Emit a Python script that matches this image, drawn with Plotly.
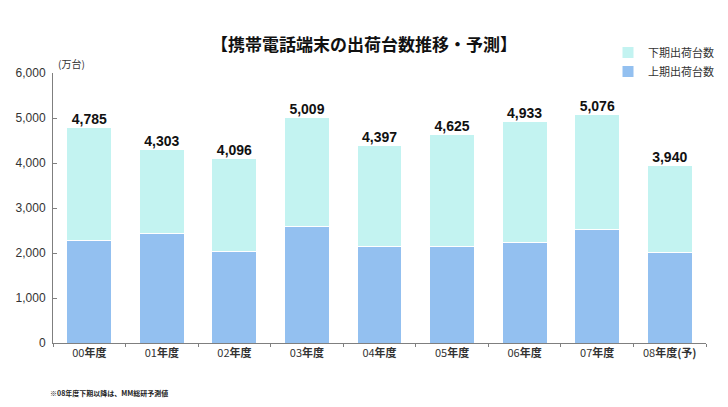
import plotly.graph_objects as go

categories = ["00年度", "01年度", "02年度", "03年度", "04年度", "05年度", "06年度", "07年度", "08年度(予)"]
tick_labels = ["00<b>年度</b>", "01<b>年度</b>", "02<b>年度</b>", "03<b>年度</b>", "04<b>年度</b>",
               "05<b>年度</b>", "06<b>年度</b>", "07<b>年度</b>", "08<b>年度(予)</b>"]
totals = [4785, 4303, 4096, 5009, 4397, 4625, 4933, 5076, 3940]
first_half = [2270, 2440, 2030, 2580, 2140, 2140, 2230, 2530, 2010]
second_half = [t - f for t, f in zip(totals, first_half)]

JP = "Noto Sans CJK JP, Liberation Sans, Arial, sans-serif"
W, H = 728, 407
L, R, T, B = 53, 22, 73, 64

fig = go.Figure()
fig.add_trace(go.Bar(x=categories, y=first_half, name="上期出荷台数",
                     marker=dict(color="#93C0F0", line=dict(color="white", width=1)),
                     hoverinfo="y"))
fig.add_trace(go.Bar(x=categories, y=second_half, name="下期出荷台数",
                     marker=dict(color="#C3F3F1", line=dict(color="white", width=1)),
                     hoverinfo="y"))
fig.add_trace(go.Scatter(x=categories, y=totals, mode="text",
                         text=[f"<b>{v:,}</b>" for v in totals], textposition="top center",
                         textfont=dict(family="Liberation Sans, Arial", size=14, color="#111111"),
                         showlegend=False, hoverinfo="skip", cliponaxis=False))

fig.update_layout(
    width=W, height=H, barmode="stack", bargap=0.38,
    margin=dict(l=L, r=R, t=T, b=B, autoexpand=False),
    paper_bgcolor="white", plot_bgcolor="white",
    font=dict(family=JP, color="#333333", size=11),
    title=dict(text="<b>【携帯電話端末の出荷台数推移・予測】</b>", x=0.5, xanchor="center",
               y=1 - 45 / H, yanchor="middle",
               font=dict(family=JP, size=17, color="#111111")),
    legend=dict(x=608 / W, xref="container", xanchor="left", y=1 - 38 / H, yref="container",
                yanchor="top", traceorder="reversed", font=dict(size=11, family=JP, color="#333333"),
                bgcolor="rgba(0,0,0,0)", itemwidth=30, tracegroupgap=4),
    showlegend=True,
    xaxis=dict(tickmode="array", tickvals=categories, ticktext=tick_labels,
               showline=True, linecolor="#7F7F7F", linewidth=1, tickson="boundaries",
               ticks="outside", ticklen=3, tickcolor="#7F7F7F", showgrid=False,
               tickfont=dict(size=11, family=JP, color="#333333")),
    yaxis=dict(range=[0, 6000], tickvals=[0, 1000, 2000, 3000, 4000, 5000, 6000],
               tickformat=",d", showline=True, linecolor="#7F7F7F", linewidth=1,
               ticks="inside", ticklen=4, tickcolor="#7F7F7F", showgrid=False,
               ticklabelstandoff=4,
               zeroline=False, tickfont=dict(size=12, family="Liberation Sans, Arial", color="#333333")),
)
fig.update_xaxes(automargin=False)
fig.update_yaxes(automargin=False)

fig.add_annotation(text="(万台)", xref="paper", yref="paper", x=0.005, y=1.0,
                   xanchor="left", yanchor="bottom", showarrow=False,
                   font=dict(size=10, family=JP, color="#333333"))
fig.add_annotation(text="<b>※08年度下期以降は、MM総研予測値</b>", xref="paper", yref="paper",
                   x=-0.008, y=-(393 - (H - B)) / (H - T - B), xanchor="left", yanchor="middle",
                   showarrow=False, font=dict(size=7, family=JP, color="#222222"))

fig.write_html("out.html", config={"displayModeBar": False},
               post_script="document.body.style.margin='0';")
